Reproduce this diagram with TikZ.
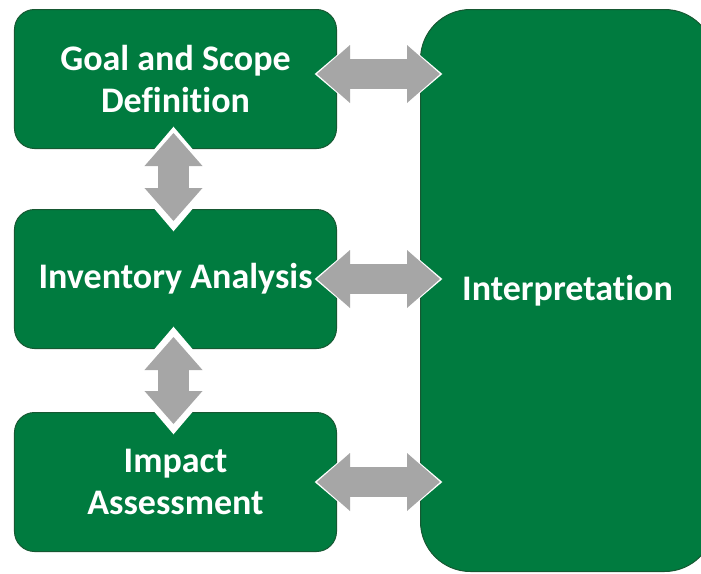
\documentclass[tikz,border=0pt]{standalone}
\usepackage{fontspec}
\setmainfont{Carlito}[Ligatures=NoCommon]
\usepackage{tikz}
\usetikzlibrary{positioning}
\usetikzlibrary{calc}
\usetikzlibrary{arrows.meta}
\definecolor{lcagreen}{RGB}{0,123,63}
\definecolor{lcaedge}{RGB}{22,88,50}
\definecolor{linkgray}{RGB}{166,166,166}
\tikzset{
  stage/.style={draw=lcaedge, line width=1pt, fill=lcagreen, text=white,
    rounded corners=20pt, minimum width=322pt, minimum height=139pt,
    align=center, font=\fontsize{36}{42}\selectfont\bfseries},
  bigstage/.style={stage, rounded corners=50pt, minimum width=294pt, minimum height=562pt},
  link/.style={draw=linkgray, line width=30pt,
    {Triangle[length=33pt,width=58pt,line width=0pt]}-{Triangle[length=33pt,width=58pt,line width=0pt]},
    preaction={draw=white, line width=33pt, shorten <=-22.3pt, shorten >=-22.3pt,
      {Triangle[length=37pt,width=63pt,line width=0pt]}-{Triangle[length=37pt,width=63pt,line width=0pt]}}}
}
\begin{document}
\begin{tikzpicture}
        % nodes %
        \node[stage] (goal) {Goal and Scope\\Definition};
        \node[below = 60pt of goal, stage] (inv) {Inventory Analysis};
        \node[below = 63pt of inv, stage] (impact) {Impact\\Assessment};
        \node[bigstage, anchor=north west] (interp) at ([xshift=83pt]goal.north east) {Interpretation};
        % edges %
        \draw[link, shorten <=-20pt, shorten >=-20pt] ([yshift=5pt]goal.east) -- ([yshift=5pt]goal.east -| interp.west);
        \draw[link, shorten <=-20pt, shorten >=-20pt] (inv.east) -- (inv.east -| interp.west);
        \draw[link, shorten <=-20pt, shorten >=-20pt] (impact.east) -- (impact.east -| interp.west);
        \draw[link, shorten <=-16pt, shorten >=-12pt] ([xshift=-2pt]goal.south) -- ([xshift=-2pt]inv.north);
        \draw[link, shorten <=-12pt, shorten >=-12pt] ([xshift=-2pt]inv.south) -- ([xshift=-2pt]impact.north);
        % page %
        \pgfresetboundingbox
        \useasboundingbox ([xshift=-14pt,yshift=9pt]goal.north west) rectangle ++(701pt,-573pt);
\end{tikzpicture}
\end{document}
